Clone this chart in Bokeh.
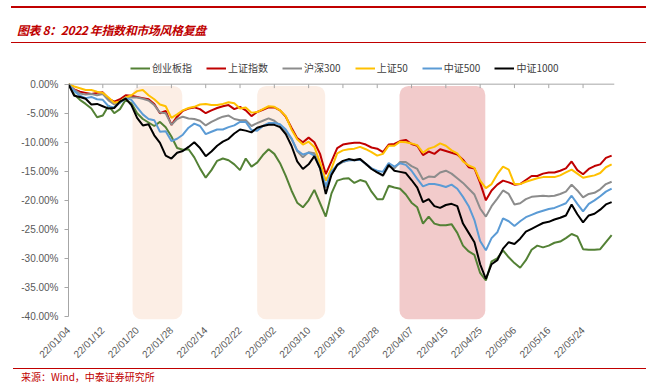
import math
from bokeh.plotting import figure
from bokeh.layouts import column
from bokeh.models import (ColumnDataSource, Range1d, FixedTicker, Span,
                          NumeralTickFormatter, BoxAnnotation, Legend, LegendItem, Div)
from bokeh.embed import file_html
from bokeh.resources import INLINE

# ---------------- data (percent change since 22/01/04) ----------------
tick_index = [0, 6, 12, 18, 24, 30, 36, 42, 48, 54, 60, 66, 72, 78, 84, 90]
tick_labels = ["22/01/04", "22/01/12", "22/01/20", "22/01/28", "22/02/14", "22/02/22",
               "22/03/02", "22/03/10", "22/03/18", "22/03/28", "22/04/07", "22/04/15",
               "22/04/25", "22/05/06", "22/05/16", "22/05/24"]

cyb = [0, -1.8, -2.7, -3.4, -4.2, -5.7, -5.4, -3.7, -5.0, -4.3,
       -2.7, -3.3, -5.0, -6.0, -6.6, -7.2, -6.5, -7.4, -9.0, -11.0,
       -11.3, -11.2, -12.6, -14.5, -16.1, -14.8, -13.2, -12.8, -13.1, -13.8,
       -14.8, -12.8, -14.2, -13.5, -12.2, -11.2, -12.0, -13.6, -15.8, -18.3,
       -20.4, -21.2, -20.0, -18.2, -20.5, -22.8, -18.8, -16.6, -16.3, -16.2,
       -17.0, -16.5, -16.8, -18.5, -19.8, -19.8, -17.5, -17.8, -18.0, -19.0,
       -20.4, -21.2, -24.0, -22.8, -24.0, -24.3, -24.3, -24.1, -25.6, -27.8,
       -28.8, -29.4, -32.5, -33.8, -30.5, -30.0, -28.6, -29.8, -30.8, -31.6,
       -30.3, -28.5, -27.8, -28.1, -27.8, -27.3, -27.1, -26.5, -25.8, -26.2,
       -28.4, -28.5, -28.5, -28.4, -27.2, -26.0]

szzs = [0, -0.9, -1.3, -1.5, -1.7, -1.5, -1.4, -2.5, -3.0, -2.6,
        -1.9, -2.0, -2.2, -2.4, -2.6, -3.4, -5.0, -4.6, -7.0, -5.6,
        -4.6, -4.2, -4.0, -4.3, -5.0, -4.5, -4.1, -3.8, -3.6, -4.3,
        -3.9, -4.5, -5.5, -4.8, -4.4, -4.0, -4.0, -4.5, -5.6, -7.5,
        -9.3, -10.0, -9.2, -10.0, -12.0, -15.5, -13.3, -11.0, -10.4, -10.2,
        -10.1, -10.1, -10.4, -10.9, -11.1, -11.7, -10.4, -10.3, -9.8, -9.6,
        -10.3, -10.6, -12.2, -11.6, -12.0, -11.2, -11.5, -11.8, -12.1, -13.0,
        -14.3, -14.5, -17.0, -20.0, -18.3, -17.3, -16.6, -16.9, -17.3, -17.2,
        -16.5, -15.8, -15.8, -15.4, -15.2, -15.2, -14.9, -14.5, -13.3, -14.8,
        -15.5, -14.6, -14.1, -13.8, -12.7, -12.3]

hs300 = [0, -1.0, -1.6, -1.8, -1.7, -1.9, -1.7, -2.8, -3.5, -3.2,
         -2.3, -2.3, -2.3, -2.5, -2.8, -3.6, -4.9, -5.0, -7.0, -6.0,
         -5.6, -5.9, -6.0, -6.3, -7.1, -6.5, -6.0, -5.6, -5.4, -6.0,
         -6.2, -6.2, -7.2, -6.7, -6.3, -5.9, -6.3, -7.1, -8.2, -9.4,
         -11.5, -12.6, -11.7, -11.9, -14.0, -17.8, -15.5, -14.0, -13.4, -13.1,
         -13.0, -12.9, -13.8, -14.5, -15.2, -15.8, -14.1, -14.5, -13.4, -13.4,
         -14.1, -14.6, -16.4, -15.9, -16.0, -15.2, -14.9, -15.4, -16.2, -17.0,
         -18.0, -19.0, -21.4, -22.8, -21.0, -19.7, -18.3, -18.9, -20.7, -20.5,
         -19.8, -19.4, -19.3, -19.2, -19.3, -19.2, -18.9, -18.5, -17.3, -18.3,
         -19.5, -18.9, -18.7, -18.1, -17.2, -16.8]

sz50 = [0, -0.4, -0.7, -1.0, -1.0, -1.3, -1.5, -2.3, -3.2, -3.0,
        -2.3, -1.9, -1.2, -1.0, -1.9, -2.6, -3.5, -3.8, -5.8, -5.2,
        -4.5, -4.1, -3.9, -3.5, -3.4, -3.6, -3.6, -3.4, -3.1, -3.3,
        -4.2, -4.0, -4.9, -4.8, -4.3, -3.8, -3.9, -4.5, -5.5, -7.8,
        -9.5, -10.4, -9.9, -10.8, -13.5, -16.6, -14.5, -11.9, -11.4, -11.2,
        -11.1, -10.8, -11.2, -11.7, -12.3, -12.0, -10.6, -10.6, -9.9, -10.0,
        -10.2, -10.5, -11.8, -11.1, -10.8, -10.2, -10.6, -11.4, -11.9, -13.3,
        -14.0, -14.4, -16.6, -17.9, -17.2, -15.5, -14.2, -14.7, -17.2, -17.2,
        -16.8, -16.5, -16.2, -16.0, -16.0, -16.0, -15.7, -15.2, -14.7, -15.4,
        -16.1, -15.9, -15.7, -15.3, -14.3, -13.8]

zz500 = [0, -1.2, -2.0, -2.4, -2.2, -2.6, -2.7, -3.8, -4.0, -3.2,
         -2.4, -2.7, -4.0, -5.2, -6.0, -6.2, -8.2, -8.1, -9.8, -9.4,
         -8.7, -7.5, -6.8, -7.2, -8.6, -8.2, -7.8, -7.8, -7.4, -7.1,
         -6.5, -6.5, -7.9, -8.0, -7.2, -6.7, -6.7, -6.9, -7.8, -9.3,
         -11.4, -12.1, -11.8, -12.3, -14.5, -17.6, -15.0, -13.9, -13.3, -13.1,
         -13.1, -13.0, -13.7, -14.5, -14.9, -15.1, -13.6, -14.2, -13.6, -13.9,
         -14.9, -16.3, -17.6, -17.2, -17.2, -17.4, -17.7, -17.3, -18.0, -19.4,
         -21.0, -23.4, -27.0, -28.6, -26.5, -25.5, -23.1, -23.6, -24.4, -23.6,
         -22.9, -22.5, -22.1, -21.8, -21.5, -21.3, -20.9, -20.5, -19.2, -20.6,
         -21.9, -20.6, -20.0, -19.3, -18.5, -18.0]

zz1000 = [0, -2.0, -2.2, -2.5, -3.5, -3.4, -3.8, -4.2, -4.1, -3.0,
          -2.5, -3.6, -5.8, -7.1, -6.9, -8.8, -10.1, -12.3, -12.8, -11.8,
          -11.5, -10.8, -10.0, -11.0, -12.4, -11.6, -10.6, -9.9, -9.4, -8.5,
          -7.8, -8.0, -8.3, -7.5, -7.2, -7.0, -7.0, -7.4, -8.6, -10.6,
          -13.3, -14.6, -13.8, -12.4, -14.5, -18.9, -15.6, -13.9, -13.2, -12.9,
          -13.1, -12.9, -13.7, -14.6, -15.2, -15.7, -13.9, -14.9, -15.1, -15.3,
          -16.5, -17.8, -20.3, -19.8, -21.0, -21.3, -20.8, -20.6, -21.0, -24.0,
          -25.6, -27.2, -31.0, -33.5, -31.0, -30.3, -28.3, -27.2, -27.5, -26.6,
          -25.4, -24.9, -24.4, -23.9, -23.7, -23.3, -23.0, -22.6, -20.7, -22.4,
          -23.8, -22.6, -22.3, -21.6, -20.7, -20.3]

series_names = ["创业板指", "上证指数", "沪深300", "上证50", "中证500", "中证1000"]
series_values = [cyb, szzs, hs300, sz50, zz500, zz1000]
series_colors = ["#538135", "#C00000", "#8C8C8C", "#FFC000", "#5B9BD5", "#000000"]

# shaded periods (in trading-day index)
shade_start = [11.2, 33.0, 57.9]
shade_end = [19.9, 44.9, 72.9]
shade_colors = ["#FCEEE5", "#FCEEE5", "#F2CBCB"]

title_text = "图表 8：2022 年指数和市场风格复盘"
source_text = "来源：Wind，中泰证券研究所"

FONT = "Noto Sans CJK SC"
LBL = "Liberation Sans"
RED = "#C00000"
AXIS = "#A6A6A6"
W = 646

# ---------------- header / footer ----------------
header = Div(width=W, height=44, margin=(0, 0, 0, 0), text=(
    f'<div style="position:relative;width:{W}px;height:44px;">'
    f'<div style="position:absolute;left:11px;top:6px;width:{W - 11}px;height:2px;background:{RED};"></div>'
    f'<div style="position:absolute;left:17px;top:22px;line-height:16px;white-space:nowrap;'
    f'font-family:\'{FONT}\';font-size:12px;letter-spacing:-0.4px;font-weight:bold;'
    f'font-style:italic;color:{RED};">{title_text}</div>'
    f'<div style="position:absolute;left:11px;top:42px;width:{W - 11}px;height:1px;background:{RED};"></div>'
    '</div>'))

footer = Div(width=W, height=21, margin=(0, 0, 0, 0), text=(
    f'<div style="position:relative;width:{W}px;height:21px;overflow:visible;">'
    f'<div style="position:absolute;left:13px;top:2px;width:{W - 13}px;height:1px;background:{RED};"></div>'
    f'<div style="position:absolute;left:21px;top:5px;line-height:12px;white-space:nowrap;'
    f'font-family:\'{FONT}\';font-size:10px;color:{RED};">{source_text}</div>'
    '</div>'))

# ---------------- figure ----------------
days = list(range(len(cyb)))
Y_TOP = 0.05106   # room above the zero line for the legend
Y_BOT = -0.4051

p = figure(width=W, height=322, output_backend="svg", toolbar_location=None,
           x_range=Range1d(0, 95.5), y_range=Range1d(Y_BOT, Y_TOP),
           min_border_left=68, min_border_right=32, min_border_top=10, min_border_bottom=44,
           margin=(0, 0, 0, 0))
p.outline_line_color = None
p.xgrid.grid_line_color = None
p.ygrid.grid_line_color = None
p.background_fill_color = "white"
p.border_fill_color = "white"

xa = p.below[0]
xa.ticker = FixedTicker(ticks=tick_index)
xa.major_label_overrides = {i: t for i, t in zip(tick_index, tick_labels)}
xa.major_label_orientation = math.pi / 4
xa.axis_line_color = None
xa.major_tick_line_color = None
xa.minor_tick_line_color = None
xa.major_label_text_font = LBL
xa.major_label_text_font_size = "10px"
xa.major_label_text_color = "#595959"
xa.major_label_standoff = 3

ya = p.left[0]
ya.ticker = FixedTicker(ticks=[-k * 0.05 for k in range(9)])
ya.formatter = NumeralTickFormatter(format="0.00%")
ya.bounds = (-0.40, 0)
ya.axis_line_color = AXIS
ya.major_tick_line_color = AXIS
ya.major_tick_out = 4
ya.major_tick_in = 0
ya.minor_tick_line_color = None
ya.major_label_text_font = LBL
ya.major_label_text_font_size = "10px"
ya.major_label_text_color = "#595959"
ya.major_label_standoff = 6

for s, e, c in zip(shade_start, shade_end, shade_colors):
    p.add_layout(BoxAnnotation(left=s, right=e, top=-0.003, bottom=Y_BOT,
                               fill_color=c, fill_alpha=1.0, line_color=None,
                               border_radius=9, level="underlay"))

# zero line (category axis crossing) with its tick marks
p.add_layout(Span(location=0, dimension="width", line_color=AXIS, line_width=1))
p.segment(x0=tick_index, y0=[0] * len(tick_index), x1=tick_index,
          y1=[-0.0068] * len(tick_index), line_color=AXIS, line_width=1)

items = []
for name, vals, col in zip(series_names, series_values, series_colors):
    src = ColumnDataSource(dict(x=days, y=[v / 100.0 for v in vals]))
    r = p.line("x", "y", source=src, line_color=col, line_width=2)
    items.append(LegendItem(label=name, renderers=[r]))

legend = Legend(items=items, orientation="horizontal", location=(62, 244),
                padding=0, margin=0, spacing=14, glyph_width=20, glyph_height=12,
                label_standoff=2, label_text_font_size="10px", label_text_font=FONT,
                label_text_color="#404040", background_fill_alpha=0,
                border_line_color=None, label_height=12)
p.add_layout(legend)

page = column(header, p, footer, spacing=0, margin=(0, 0, 0, 0))
open("out.html", "w").write(file_html(page, INLINE))
